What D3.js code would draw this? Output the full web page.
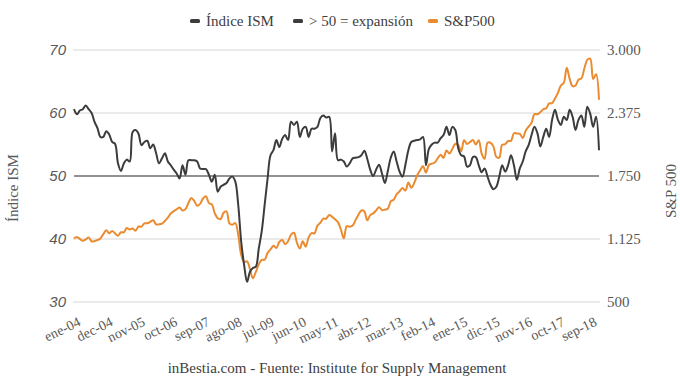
<!DOCTYPE html>
<html><head><meta charset="utf-8">
<script src="https://cdn.jsdelivr.net/npm/d3@7"></script>
<style>body{margin:0;background:#fff}svg{display:block}</style>
</head><body><svg id="c" width="680" height="383"></svg>
<script>
const tickLabels = ["ene-04","dec-04","nov-05","oct-06","sep-07","ago-08","jul-09","jun-10","may-11","abr-12","mar-13","feb-14","ene-15","dic-15","nov-16","oct-17","sep-18"];
const ism = [
60.6,59.8,60.4,60.6,61.2,60.6,60.0,58.6,57.6,56.2,56.2,57.1,
56.6,55.4,55.1,52.0,50.8,52.0,52.6,52.3,57.0,57.3,56.7,54.9,
55.4,55.6,54.4,55.0,53.6,52.0,52.8,53.6,52.3,51.7,51.0,50.4,
49.6,51.7,50.2,52.5,52.5,52.5,52.3,51.2,51.1,51.1,50.2,49.1,
50.2,47.5,48.3,48.6,48.9,49.6,49.9,49.1,45.4,39.6,35.9,33.2,
34.8,35.4,35.6,38.5,41.2,45.4,49.6,53.3,54.1,55.7,54.6,55.9,
56.5,55.7,58.6,58.1,58.6,56.2,57.5,57.8,56.2,57.5,57.5,57.8,
59.2,59.6,59.3,59.4,53.9,56.8,52.5,52.6,52.3,51.5,52.0,52.8,
52.9,53.0,53.3,54.0,52.7,51.0,50.0,51.0,51.8,50.4,48.9,50.8,
52.9,53.9,52.3,50.7,49.9,51.8,54.1,55.4,55.6,55.7,55.8,56.2,
51.7,54.3,55.0,55.3,55.3,56.0,56.5,57.8,56.5,57.8,57.3,54.4,
53.3,53.1,51.5,51.7,53.0,53.0,51.7,50.6,51.2,49.9,48.6,47.9,
48.3,49.9,51.7,50.7,51.7,53.3,51.7,49.4,51.2,52.3,53.9,54.9,
56.5,57.8,56.8,54.7,56.2,57.5,56.2,58.9,60.5,58.9,58.1,59.4,
58.9,60.5,59.4,57.3,58.9,59.6,57.8,61.0,59.9,57.8,59.4,54.1];
const spx = [
1131,1145,1126,1107,1121,1141,1102,1104,1115,1130,1174,1212,
1181,1204,1181,1157,1192,1191,1234,1220,1229,1207,1249,1248,
1280,1281,1295,1311,1270,1270,1277,1304,1336,1378,1401,1418,
1438,1407,1421,1482,1531,1503,1455,1474,1527,1549,1481,1468,
1379,1331,1323,1386,1400,1280,1267,1283,1166,969,896,903,
826,735,798,873,919,919,987,1021,1057,1036,1096,1115,
1074,1104,1169,1187,1089,1031,1102,1049,1141,1183,1181,1258,
1286,1327,1326,1364,1345,1321,1292,1219,1131,1253,1247,1258,
1312,1366,1408,1398,1310,1362,1379,1407,1441,1412,1416,1426,
1498,1515,1569,1598,1631,1606,1686,1633,1682,1757,1806,1848,
1783,1859,1872,1884,1924,1960,1931,2003,1972,2018,2068,2059,
1995,2105,2068,2086,2107,2063,2104,1972,1920,2079,2080,2044,
1940,1932,2060,2065,2097,2099,2174,2171,2168,2126,2199,2239,
2279,2364,2363,2384,2412,2423,2470,2472,2519,2575,2648,2674,
2824,2714,2641,2648,2705,2718,2816,2902,2914,2712,2760,2507];
const expansion = ism.map(() => 50);
const leftTicks = [30,40,50,60,70];
const rightTicks = [500,1125,1750,2375,3000];
const legendItems = ["Índice ISM", "> 50 = expansión", "S&P500"];

const svg = d3.select("#c");
const W = 680, H = 383;
svg.append("rect").attr("width", W).attr("height", H).attr("fill", "#fff");
const idx = d3.range(ism.length);
const x = d3.scalePoint().domain(idx).range([74, 599]);
const yL = d3.scaleLinear().domain([30, 70]).range([302, 50]);
const yR = d3.scaleLinear().domain([500, 3000]).range([302, 50]);
const serif = "'Liberation Serif', 'Times New Roman', serif";
const col = { ism: "#3c3c3c", exp: "#6e6e6e", spx: "#ea8b2f" };

// grid
svg.append("g").selectAll("line").data(leftTicks.filter(d => d !== 50)).join("line")
  .attr("x1", 73).attr("x2", 600).attr("y1", d => yL(d)).attr("y2", d => yL(d))
  .attr("stroke", "#d6d6d6").attr("stroke-width", 1);

// left axis labels
const gl = svg.append("g").attr("transform", "translate(66,0)")
  .call(d3.axisLeft(yL).tickValues(leftTicks).tickSize(0).tickPadding(0));
gl.select(".domain").remove();
gl.selectAll("text").attr("font-family", "'Liberation Sans', Arial, sans-serif")
  .attr("font-style", "italic").attr("font-size", 15).attr("fill", "#595959");

// right axis labels
const fmtR = d => d3.format(",")(d).replace(/,/g, ".");
const gr = svg.append("g").attr("transform", "translate(607,0)")
  .call(d3.axisRight(yR).tickValues(rightTicks).tickSize(0).tickPadding(0).tickFormat(fmtR));
gr.select(".domain").remove();
gr.selectAll("text").attr("font-family", serif).attr("font-size", 15).attr("fill", "#595959");

// x axis labels
const tickIdx = tickLabels.map((d, i) => i * 11);
const gx = svg.append("g").attr("transform", "translate(0,309)")
  .call(d3.axisBottom(x).tickValues(tickIdx).tickSize(0).tickPadding(0).tickFormat((d, i) => tickLabels[i]));
gx.select(".domain").remove();
gx.selectAll("text").attr("font-family", serif).attr("font-size", 14).attr("fill", "#595959")
  .attr("text-anchor", "end").attr("dy", "0").attr("y", 0)
  .attr("transform", "translate(7,16) rotate(-26)");

// lines
const line = yS => d3.line().x((d, i) => x(i)).y(d => yS(d)).curve(d3.curveCatmullRom.alpha(0.5));
svg.append("path").datum(expansion).attr("d", line(yL)).attr("fill", "none")
  .attr("stroke", col.exp).attr("stroke-width", 1.6);
svg.append("path").datum(spx).attr("d", line(yR)).attr("fill", "none")
  .attr("stroke", col.spx).attr("stroke-width", 2).attr("stroke-linejoin", "round");
svg.append("path").datum(ism).attr("d", line(yL)).attr("fill", "none")
  .attr("stroke", col.ism).attr("stroke-width", 2).attr("stroke-linejoin", "round");

// axis titles
svg.append("text").attr("transform", "translate(18,188) rotate(-90)").attr("text-anchor", "middle")
  .attr("font-family", serif).attr("font-size", 15).attr("fill", "#595959").text("Índice ISM");
svg.append("text").attr("transform", "translate(676,191) rotate(-90)").attr("text-anchor", "middle")
  .attr("font-family", serif).attr("font-size", 15).attr("fill", "#595959").text("S&P 500");

// legend
const legX = [190, 293, 428];
const legCols = [col.ism, col.ism, col.spx];
const lg = svg.append("g");
legendItems.forEach((t, i) => {
  lg.append("rect").attr("x", legX[i]).attr("y", 19).attr("width", 10).attr("height", 4).attr("rx", 1.5)
    .attr("fill", legCols[i]);
  lg.append("text").attr("x", legX[i] + 16).attr("y", 26).attr("font-family", serif)
    .attr("font-size", 15).attr("fill", "#404040").text(t);
});

// footer
svg.append("text").attr("x", 337).attr("y", 373).attr("text-anchor", "middle")
  .attr("font-family", serif).attr("font-size", 15).attr("fill", "#404040")
  .text("inBestia.com - Fuente: Institute for Supply Management");
</script></body></html>
